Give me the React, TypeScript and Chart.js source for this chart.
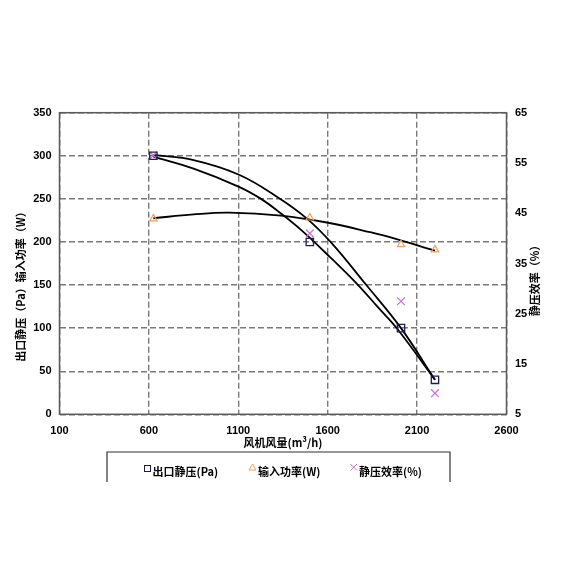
import React, { useEffect, useRef } from "react";
import { Chart, registerables } from "chart.js";

Chart.register(...registerables);

// ---- data ----
const airflow = [625, 1500, 2010, 2200];
const staticPressure = [300, 200, 100, 40];
const inputPower = [227, 228, 197, 191];
const staticEfficiency = [56.5, 41, 27.5, 9.2];

// trend curves
const trendUpperX = [625, 850, 1104, 1320, 1479, 1616, 1816, 2010, 2200];
const trendUpperY = [301, 295, 278, 252, 228, 200, 150, 100, 40];
const trendLowerX = [625, 850, 1104, 1227, 1339, 1451, 1610, 1770, 1882, 1990, 2200];
const trendLowerY = [299, 285, 264, 250, 233, 214, 183, 150, 124, 99, 40];
const trendPowerX = [625, 850, 1050, 1339, 1610, 1844, 1957, 2200];
const trendPowerY = [227.5, 232, 234, 230.5, 222, 211, 205, 190];

const xTickMin = 100, xTickMax = 2600, xTickStep = 500;
const yTickMin = 0, yTickMax = 350, yTickStep = 50;
const y2TickMin = 5, y2TickMax = 65, y2TickStep = 10;

const xTitle = "风机风量(m³/h)";
const yTitle = "出口静压（Pa）输入功率（W）";
const y2Title = "静压效率（%）";
const legendLabels = ["出口静压(Pa)", "输入功率(W)", "静压效率(%)"];

const pts = (xs: number[], ys: number[]) => xs.map((x, i) => ({ x, y: ys[i] }));

const CJK = '"Noto Sans CJK SC", "Liberation Sans", sans-serif';
const NUM = '"Liberation Sans", Arial, sans-serif';
const GRID = "#7a7a7a";
const SQ = "#1c1c58";
const TRI = "#f0a060";
const XM = "#d070d0";

const decor = {
  id: "decor",
  beforeDatasetsDraw(chart: any) {
    const { ctx, chartArea: a } = chart;
    ctx.save();
    ctx.strokeStyle = "#5a5a5a";
    ctx.lineWidth = 1.5;
    ctx.setLineDash([]);
    ctx.strokeRect(a.left, a.top, a.right - a.left, a.bottom - a.top);
    ctx.restore();
  },
  afterDraw(chart: any) {
    const { ctx } = chart;
    ctx.save();
    ctx.fillStyle = "#000";
    ctx.font = `bold 11px ${CJK}`;
    ctx.textAlign = "center";
    ctx.textBaseline = "middle";
    // x title
    ctx.fillText(xTitle, 283, 443);
    // left title
    ctx.save();
    ctx.translate(20.5, 284);
    ctx.rotate(-Math.PI / 2);
    ctx.fillText(yTitle, 0, 0);
    ctx.restore();
    // right title
    ctx.save();
    ctx.translate(535, 278);
    ctx.rotate(-Math.PI / 2);
    ctx.fillText(y2Title, 0, 0);
    ctx.restore();

    // legend box (top, left, right only - cut at bottom)
    ctx.strokeStyle = "#333";
    ctx.lineWidth = 1.2;
    ctx.beginPath();
    ctx.moveTo(107, 482);
    ctx.lineTo(107, 452);
    ctx.lineTo(450, 452);
    ctx.lineTo(450, 482);
    ctx.stroke();

    const ty = 472;
    ctx.textAlign = "left";
    ctx.font = `bold 11px ${CJK}`;
    // square
    ctx.strokeStyle = SQ;
    ctx.lineWidth = 1;
    ctx.strokeRect(144.5, 465.5, 6, 6);
    ctx.fillText(legendLabels[0], 152.5, ty);
    // triangle
    ctx.strokeStyle = TRI;
    ctx.beginPath();
    ctx.moveTo(252.5, 464);
    ctx.lineTo(256, 470);
    ctx.lineTo(249, 470);
    ctx.closePath();
    ctx.stroke();
    ctx.fillText(legendLabels[1], 258, ty);
    // x mark
    ctx.strokeStyle = XM;
    ctx.beginPath();
    ctx.moveTo(350.5, 464);
    ctx.lineTo(357, 470.5);
    ctx.moveTo(357, 464);
    ctx.lineTo(350.5, 470.5);
    ctx.stroke();
    ctx.fillText(legendLabels[2], 359, ty);
    ctx.restore();
  },
};

export default function App() {
  const ref = useRef<HTMLCanvasElement | null>(null);
  useEffect(() => {
    if (!ref.current) return;
    const tickFont = { family: NUM, size: 11, weight: "bold" as const };
    const plain = (v: any) => String(v);
    const lineCommon = {
      showLine: true,
      borderColor: "#000",
      borderWidth: 1.8,
      pointRadius: 0,
      tension: 0.4,
      yAxisID: "y",
    };
    const chart = new Chart(ref.current, {
      type: "scatter",
      data: {
        datasets: [
          {
            label: legendLabels[0],
            data: pts(airflow, staticPressure),
            showLine: false,
            pointStyle: "rect",
            pointRadius: 5.2,
            pointBorderColor: SQ,
            pointBackgroundColor: "rgba(0,0,0,0)",
            pointBorderWidth: 1.3,
            yAxisID: "y",
          },
          {
            label: legendLabels[1],
            data: pts(airflow, inputPower),
            showLine: false,
            pointStyle: "triangle",
            pointRadius: 4.3,
            pointBorderColor: TRI,
            pointBackgroundColor: "rgba(0,0,0,0)",
            pointBorderWidth: 1.2,
            yAxisID: "y",
          },
          {
            label: legendLabels[2],
            data: pts(airflow, staticEfficiency),
            showLine: false,
            pointStyle: "crossRot",
            pointRadius: 5.5,
            pointBorderColor: XM,
            pointBackgroundColor: XM,
            pointBorderWidth: 1.2,
            yAxisID: "y2",
          },
          { label: "t1", data: pts(trendUpperX, trendUpperY), ...lineCommon },
          { label: "t2", data: pts(trendLowerX, trendLowerY), ...lineCommon },
          { label: "t3", data: pts(trendPowerX, trendPowerY), ...lineCommon },
        ],
      },
      options: {
        animation: false,
        responsive: false,
        devicePixelRatio: 1,
        layout: { padding: { top: 112.7, left: 0, right: 0, bottom: 0 } },
        plugins: { legend: { display: false }, tooltip: { enabled: false } },
        scales: {
          x: {
            type: "linear",
            min: xTickMin,
            max: xTickMax,
            ticks: { stepSize: xTickStep, font: tickFont, color: "#000", padding: 10, callback: plain },
            grid: { color: GRID, lineWidth: 1.4, drawTicks: false },
            border: { display: false, dash: [6, 3] },
            afterFit: (s: any) => { s.height = 155.7; },
          },
          y: {
            type: "linear",
            position: "left",
            min: yTickMin,
            max: yTickMax,
            ticks: { stepSize: yTickStep, font: tickFont, color: "#000", padding: 8, callback: plain },
            grid: { color: GRID, lineWidth: 1.4, drawTicks: false },
            border: { display: false, dash: [6, 3] },
            afterFit: (s: any) => { s.width = 59.5; },
          },
          y2: {
            type: "linear",
            position: "right",
            min: y2TickMin,
            max: y2TickMax,
            ticks: { stepSize: y2TickStep, font: tickFont, color: "#000", padding: 8.5, callback: plain },
            grid: { display: false, drawTicks: false },
            border: { display: false },
            afterFit: (s: any) => { s.width = 63.5; },
          },
        },
      },
      plugins: [decor],
    });
    return () => chart.destroy();
  }, []);

  return (
    <div style={{ position: "fixed", left: 0, top: 0, width: 570, height: 570, background: "#fff" }}>
      <canvas ref={ref} width={570} height={570} style={{ width: 570, height: 570, display: "block" }} />
    </div>
  );
}
